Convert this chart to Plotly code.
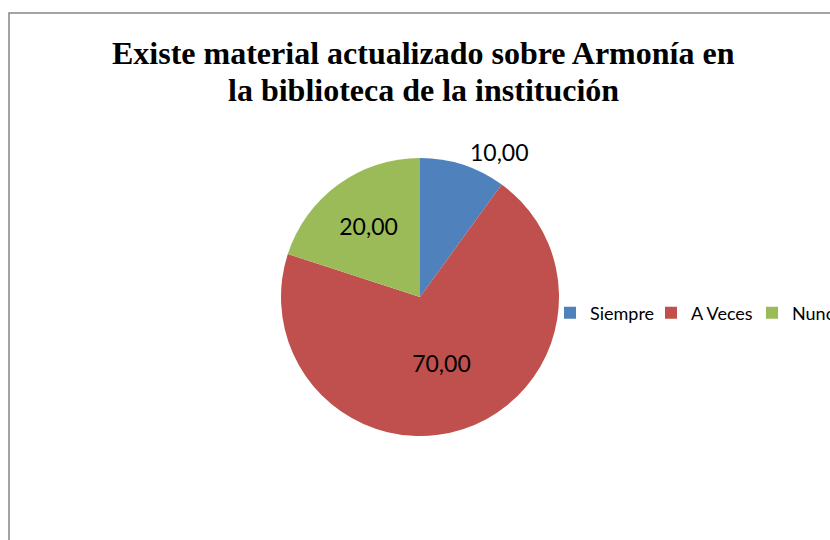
import plotly.graph_objects as go

categories = ["Siempre", "A Veces", "Nunca"]
values = [10.00, 70.00, 20.00]
colors = ["#4F81BD", "#C0504D", "#9BBB59"]
title_lines = ["Existe material actualizado sobre Armonía en", "la biblioteca de la institución"]

W, H = 870, 570
cx, cy, r = 420, 297, 139

fig = go.Figure(go.Pie(
    labels=categories, values=values, sort=False, direction="clockwise", rotation=0,
    marker=dict(colors=colors, line=dict(color="white", width=0)),
    texttemplate="%{value:.2f}", textposition=["outside", "inside", "inside"],
    insidetextorientation="horizontal",
    textfont=dict(family="Lato", size=23, color="black"),
    domain=dict(x=[(cx - r) / W, (cx + r) / W], y=[1 - (cy + r) / H, 1 - (cy - r) / H]),
    hoverinfo="skip",
))

title_y = [53, 90]
annotations = [
    dict(text=t, xref="paper", yref="paper", x=423 / W, y=1 - yy / H,
         xanchor="center", yanchor="middle", showarrow=False,
         font=dict(family="Liberation Serif", size=32, color="black", weight="bold"))
    for t, yy in zip(title_lines, title_y)
]

fig.update_layout(
    width=W, height=H,
    margin=dict(l=0, r=0, t=0, b=0),
    separators=",.",
    paper_bgcolor="white",
    annotations=annotations,
    legend=dict(orientation="h", x=550 / W, xanchor="left", y=1 - 313 / H, yanchor="middle",
                entrywidth=56, entrywidthmode="pixels",
                font=dict(family="Lato", size=18, color="black"), bgcolor="rgba(0,0,0,0)"),
    shapes=[dict(type="rect", xref="paper", yref="paper", x0=9 / W, x1=1.2, y0=-0.2, y1=1 - 13 / H,
                 line=dict(color="#868686", width=1.5), fillcolor="rgba(0,0,0,0)", layer="below")],
)

fig.write_html("out.html", config={"displayModeBar": False},
               post_script="document.body.style.margin='0';document.body.style.overflow='hidden';")
